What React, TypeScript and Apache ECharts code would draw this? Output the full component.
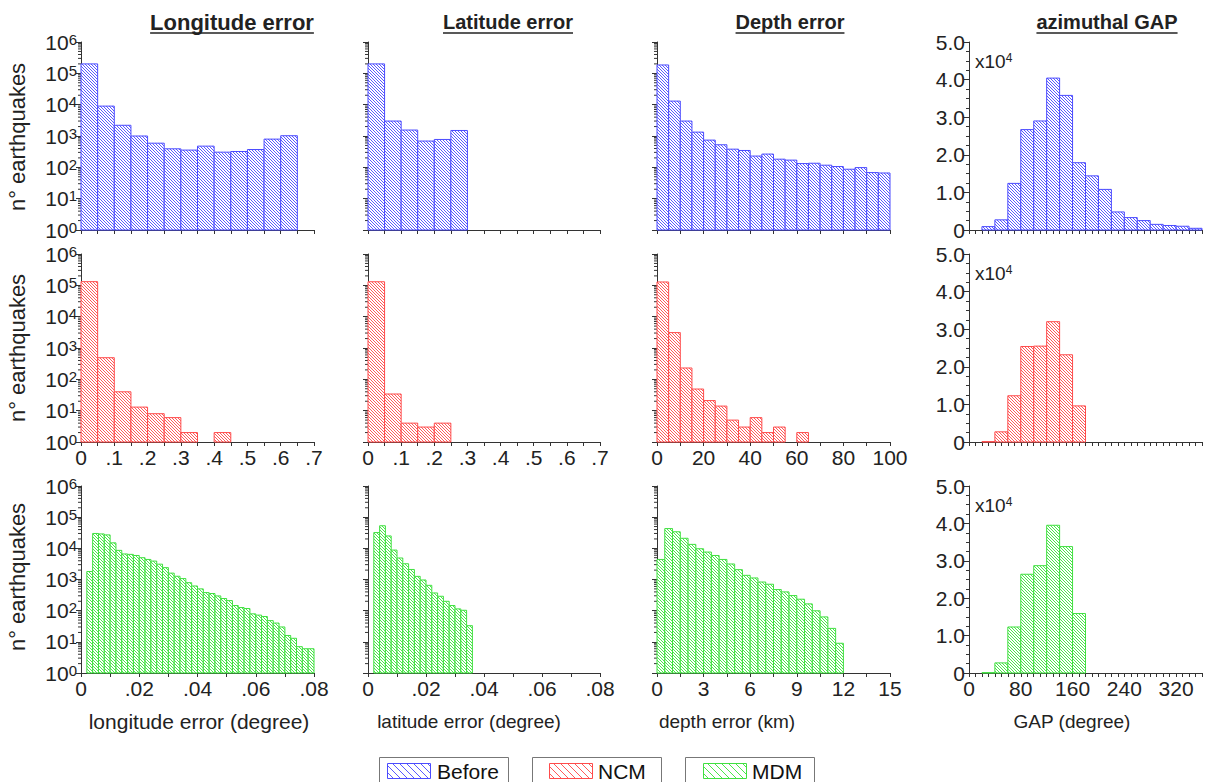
import React, { useEffect, useRef } from 'react';
import * as echarts from 'echarts';

// ---------------- DATA ----------------
const groupNames = ['Before', 'NCM', 'MDM'];

// Longitude error histograms (earthquakes per bin)
const lonBefore = [200000, 9000, 2200, 1000, 590, 390, 355, 475, 305, 320, 370, 795, 1020];
const lonNCM = [131000, 490, 40, 13, 8, 6, 2, 0, 2];
const lonMDM = [1800, 30000, 29000, 27000, 15000, 8600, 6600, 6400, 5900, 5000, 4400, 3900, 3100, 2400, 1600, 1270, 1070, 790, 620, 500, 380, 355, 297, 245, 210, 146, 126, 117, 79, 72, 65, 48, 40, 30, 16, 13, 7, 6, 6];
// Latitude error
const latBefore = [200000, 3000, 1550, 690, 775, 1500];
const latNCM = [130000, 34, 4, 3, 4];
const latMDM = [32000, 53000, 25000, 8800, 4900, 3200, 2100, 1260, 965, 650, 370, 290, 200, 146, 114, 103, 33];
// Depth error
const depBefore = [185000, 13000, 3000, 1330, 740, 525, 380, 345, 229, 265, 182, 170, 132, 135, 117, 106, 87, 98, 68, 66];
const depNCM = [128000, 3100, 230, 49, 21, 14, 5, 3, 6, 2, 3, 0, 2];
const depMDM = [4400, 43000, 34000, 21000, 13400, 9700, 7600, 5900, 4400, 3150, 2070, 1360, 1120, 830, 705, 475, 400, 305, 233, 165, 99, 63, 27, 9];
// Azimuthal GAP
const gapBefore = [900, 2700, 12400, 26700, 29000, 40400, 35800, 17900, 14400, 10800, 4800, 3300, 2500, 1500, 1200, 1000, 450];
const gapNCM = [100, 2700, 12300, 25400, 25500, 32000, 23200, 9600];
const gapMDM = [100, 2700, 12300, 26400, 28700, 39500, 33800, 15900];

// bins: [start of first bin, bin width] per row
const lonBins = [[0, 0.05], [0, 0.05], [0.002, 0.002]];
const latBins = [[0, 0.05], [0, 0.05], [0.002, 0.002]];
const depBins = [[0, 5], [0, 5], [0, 0.5]];
const gapBins = [[20, 20], [20, 20], [20, 20]];

// tick labels
const degTicksCoarse = ['0', '.1', '.2', '.3', '.4', '.5', '.6', '.7'];
const degTicksFine = ['0', '.02', '.04', '.06', '.08'];
const depthTicksCoarse = ['0', '20', '40', '60', '80', '100'];
const depthTicksFine = ['0', '3', '6', '9', '12', '15'];
const gapTicks = ['0', '80', '160', '240', '320'];
const logExponents = ['0', '1', '2', '3', '4', '5', '6'];
const gapYTicks = ['0', '1.0', '2.0', '3.0', '4.0', '5.0'];

const titles = ['Longitude error', 'Latitude error', 'Depth error', 'azimuthal GAP'];
const xNames = ['longitude error (degree)', 'latitude error (degree)', 'depth error (km)', 'GAP (degree)'];
const yName = 'n° earthquakes';

// ---------------- LAYOUT / STYLE ----------------
const FONT = '"Liberation Sans", Arial, Helvetica, sans-serif';
const TXT = '#222';
const AX = '#333';
const colLeft = [81, 368, 657, 969];
const colWidth = [233, 232, 233, 233];
const rowTop = [42, 254, 486];
const rowHeight = [188, 188, 187];
const strokeColors = ['#4b4bff', '#ff4b4b', '#40e040'];
const hatchColors = ['#5a5aff', '#ff5a5a', '#4ae84a'];
const titleCenters = [232, 508, 790, 1107];
const titleSizes = [22, 20, 20, 20];
const xNameCenters = [199, 469, 727, 1072];
const xNameSizes = [21, 19, 19, 19];
const yNameCenters = [137, 348, 577];

function hatch(color: string, size: number) {
  const c = document.createElement('canvas');
  c.width = size;
  c.height = size;
  const ctx = c.getContext('2d')!;
  ctx.fillStyle = '#ffffff';
  ctx.fillRect(0, 0, size, size);
  ctx.fillStyle = color;
  for (let i = 0; i < size; i++) ctx.fillRect(i, i, 1, 1);
  return { image: c.toDataURL(), repeat: 'repeat', imageWidth: size, imageHeight: size } as any;
}

function textWidth(text: string, font: string) {
  const ctx = document.createElement('canvas').getContext('2d')!;
  ctx.font = font;
  return ctx.measureText(text).width;
}

function binsToData(values: number[], bins: number[]) {
  const [start, w] = bins;
  const out: number[][] = [];
  values.forEach((v, i) => {
    if (v > 0) out.push([start + i * w, start + (i + 1) * w, v]);
  });
  return out;
}

type XSpec = { min: number; max: number; tick: number; labelStep: number; labels: string[] };

const xSpecs: XSpec[][] = [
  [
    { min: 0, max: 0.7, tick: 0.05, labelStep: 0.1, labels: degTicksCoarse },
    { min: 0, max: 0.7, tick: 0.05, labelStep: 0.1, labels: degTicksCoarse },
    { min: 0, max: 0.08, tick: 0.01, labelStep: 0.02, labels: degTicksFine },
  ],
  [
    { min: 0, max: 0.7, tick: 0.05, labelStep: 0.1, labels: degTicksCoarse },
    { min: 0, max: 0.7, tick: 0.05, labelStep: 0.1, labels: degTicksCoarse },
    { min: 0, max: 0.08, tick: 0.01, labelStep: 0.02, labels: degTicksFine },
  ],
  [
    { min: 0, max: 100, tick: 10, labelStep: 20, labels: depthTicksCoarse },
    { min: 0, max: 100, tick: 10, labelStep: 20, labels: depthTicksCoarse },
    { min: 0, max: 15, tick: 1.5, labelStep: 3, labels: depthTicksFine },
  ],
  [
    { min: 0, max: 360, tick: 10, labelStep: 80, labels: gapTicks },
    { min: 0, max: 360, tick: 10, labelStep: 80, labels: gapTicks },
    { min: 0, max: 360, tick: 10, labelStep: 80, labels: gapTicks },
  ],
];

const dataByCol = [
  [lonBefore, lonNCM, lonMDM],
  [latBefore, latNCM, latMDM],
  [depBefore, depNCM, depMDM],
  [gapBefore, gapNCM, gapMDM],
];
const binsByCol = [lonBins, latBins, depBins, gapBins];

function buildOption() {
  const patterns = hatchColors.map((c) => hatch(c, 3));
  const legendPatterns = hatchColors.map((c) => hatch(c, 7));
  const grid: any[] = [];
  const xAxis: any[] = [];
  const yAxis: any[] = [];
  const series: any[] = [];
  const minorLog: number[] = [];
  for (let d = 0; d < 6; d++) for (let k = 2; k <= 9; k++) minorLog.push(k * Math.pow(10, d));

  for (let r = 0; r < 3; r++) {
    for (let c = 0; c < 4; c++) {
      const idx = r * 4 + c;
      const xs = xSpecs[c][r];
      grid.push({ left: colLeft[c], top: rowTop[r], width: colWidth[c], height: rowHeight[r], containLabel: false, outerBoundsMode: 'none' });
      const showXLabel = r === 2 || (r === 1 && c < 3);
      xAxis.push({
        type: 'value',
        gridIndex: idx,
        min: xs.min,
        max: xs.max,
        interval: xs.tick,
        axisLine: { show: true, onZero: false, lineStyle: { color: AX, width: 1 } },
        axisTick: { show: true, length: 4, lineStyle: { color: AX } },
        splitLine: { show: false },
        axisLabel: {
          show: showXLabel,
          margin: 5,
          color: TXT,
          fontSize: 21,
          fontFamily: FONT,
          formatter: (v: number) => {
            const k = (v - xs.min) / xs.labelStep;
            const kr = Math.round(k);
            return Math.abs(k - kr) < 1e-6 ? xs.labels[kr] ?? '' : '';
          },
        },
      });
      if (c < 3) {
        yAxis.push({
          type: 'log',
          logBase: 10,
          gridIndex: idx,
          min: 1,
          max: 1e6,
          axisLine: { show: true, lineStyle: { color: AX, width: 1 } },
          axisTick: { show: true, length: 5, lineStyle: { color: AX } },
          splitLine: { show: false },
          axisLabel: {
            show: c === 0,
            margin: 4,
            color: TXT,
            fontFamily: FONT,
            formatter: (v: number) => `{a|10}{b|${logExponents[Math.round(Math.log10(v))]}}`,
            rich: {
              a: { fontSize: 21, fontFamily: FONT, color: TXT, verticalAlign: 'bottom' },
              b: { fontSize: 15, fontFamily: FONT, color: TXT, verticalAlign: 'top', padding: [0, 0, 4, 0] },
            },
          },
        });
        series.push({
          type: 'custom',
          xAxisIndex: idx,
          yAxisIndex: idx,
          silent: true,
          data: minorLog.map((v) => [xs.min, v]),
          encode: { x: 0, y: 1 },
          renderItem: (_p: any, api: any) => {
            const p = api.coord([api.value(0), api.value(1)]);
            return { type: 'line', shape: { x1: p[0] - 3, y1: p[1], x2: p[0], y2: p[1] }, style: { stroke: AX, lineWidth: 1 } };
          },
        });
      } else {
        yAxis.push({
          type: 'value',
          gridIndex: idx,
          min: 0,
          max: 50000,
          interval: 10000,
          axisLine: { show: true, lineStyle: { color: AX, width: 1 } },
          axisTick: { show: true, length: 5, lineStyle: { color: AX } },
          minorTick: { show: true, splitNumber: 4, length: 3, lineStyle: { color: AX } },
          splitLine: { show: false },
          axisLabel: {
            show: true,
            margin: 4,
            color: TXT,
            fontSize: 21,
            fontFamily: FONT,
            formatter: (v: number) => gapYTicks[Math.round(v / 10000)] ?? '',
          },
        });
      }
      const base = c < 3 ? 1 : 0;
      series.push({
        type: 'custom',
        name: groupNames[r],
        xAxisIndex: idx,
        yAxisIndex: idx,
        silent: true,
        data: binsToData(dataByCol[c][r], binsByCol[c][r]),
        encode: { x: [0, 1], y: 2 },
        renderItem: (_p: any, api: any) => {
          const a = api.coord([api.value(0), api.value(2)]);
          const b = api.coord([api.value(1), base]);
          return {
            type: 'rect',
            shape: { x: a[0], y: a[1], width: b[0] - a[0], height: b[1] - a[1] },
            style: { fill: patterns[r], stroke: strokeColors[r], lineWidth: 1 },
          };
        },
      });
    }
  }

  const graphic: any[] = [];
  titles.forEach((t, i) => {
    const font = `bold ${titleSizes[i]}px "Liberation Sans"`;
    const w = textWidth(t, font);
    graphic.push({
      type: 'text',
      x: titleCenters[i],
      y: 22,
      style: { text: t, fontSize: titleSizes[i], fontWeight: 'bold', fontFamily: FONT, fill: TXT, align: 'center', verticalAlign: 'middle' },
    });
    graphic.push({
      type: 'line',
      shape: { x1: titleCenters[i] - w / 2, y1: 33, x2: titleCenters[i] + w / 2, y2: 33 },
      style: { stroke: TXT, lineWidth: 1.5 },
    });
  });
  yNameCenters.forEach((cy) => {
    graphic.push({
      type: 'text',
      x: 17,
      y: cy,
      rotation: Math.PI / 2,
      style: { text: yName, fontSize: 22, fontFamily: FONT, fill: TXT, align: 'center', verticalAlign: 'middle' },
    });
  });
  rowTop.forEach((top) => {
    graphic.push({
      type: 'text',
      x: 975,
      y: top + 19,
      style: {
        text: '{a|x10}{b|4}',
        fontFamily: FONT,
        fill: TXT,
        align: 'left',
        verticalAlign: 'middle',
        rich: {
          a: { fontSize: 19, fontFamily: FONT, fill: TXT, verticalAlign: 'bottom' },
          b: { fontSize: 12, fontFamily: FONT, fill: TXT, verticalAlign: 'top' },
        },
      },
    });
  });
  xNames.forEach((t, i) => {
    graphic.push({
      type: 'text',
      x: xNameCenters[i],
      y: 721,
      style: { text: t, fontSize: xNameSizes[i], fontFamily: FONT, fill: TXT, align: 'center', verticalAlign: 'middle' },
    });
  });
  const boxLeft = [379, 532, 685];
  const boxWidth = [129, 129, 129];
  const swatchLeft = [387, 549, 703];
  const textLeft = [437, 598, 752];
  groupNames.forEach((n, i) => {
    graphic.push({
      type: 'rect',
      shape: { x: boxLeft[i] + 0.5, y: 757.5, width: boxWidth[i], height: 30 },
      style: { fill: '#fff', stroke: '#777', lineWidth: 1 },
    });
    graphic.push({
      type: 'rect',
      shape: { x: swatchLeft[i] + 0.5, y: 763.5, width: 43, height: 15 },
      style: { fill: legendPatterns[i], stroke: strokeColors[i], lineWidth: 1 },
    });
    graphic.push({
      type: 'text',
      x: textLeft[i],
      y: 771,
      style: { text: n, fontSize: 21, fontFamily: FONT, fill: '#111', align: 'left', verticalAlign: 'middle' },
    });
  });

  return {
    animation: false,
    backgroundColor: '#ffffff',
    grid,
    xAxis,
    yAxis,
    series,
    graphic,
  };
}

export default function App() {
  const ref = useRef<HTMLDivElement>(null);
  useEffect(() => {
    const chart = echarts.init(ref.current!, null, { renderer: 'svg' });
    chart.setOption(buildOption() as any);
    return () => chart.dispose();
  }, []);
  return <div ref={ref} style={{ position: 'absolute', left: 0, top: 0, width: 1207, height: 782 }} />;
}
